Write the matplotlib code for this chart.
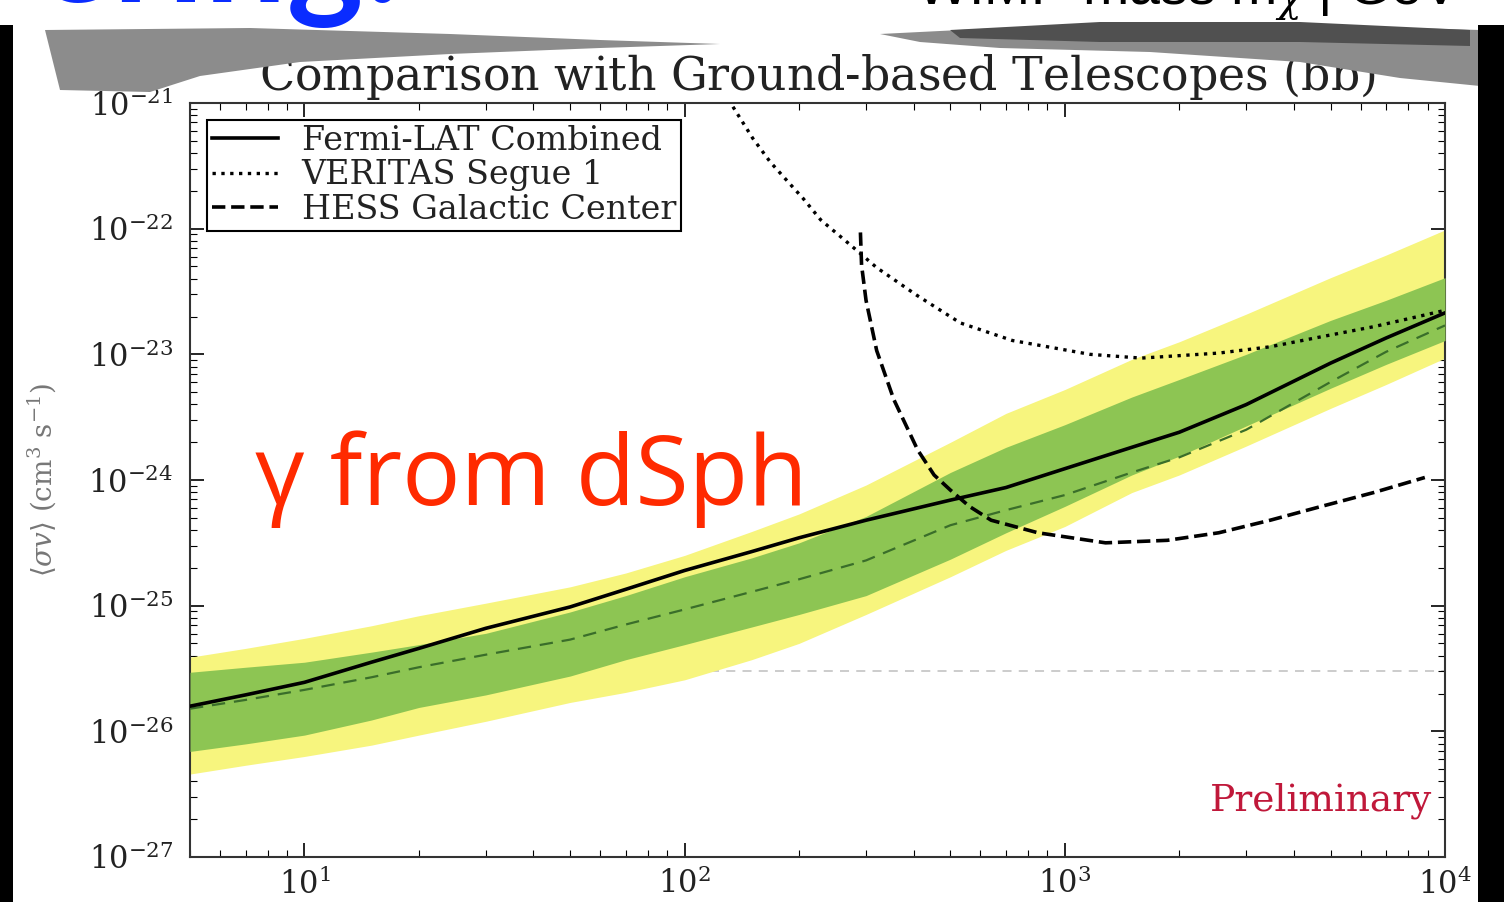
import matplotlib
matplotlib.use("Agg")
import numpy as np
import matplotlib.pyplot as plt
from matplotlib.patches import Polygon, Rectangle

plt.rcParams['font.family'] = ['DejaVu Serif']
plt.rcParams['mathtext.fontset'] = 'dejavuserif'
plt.rcParams['axes.unicode_minus'] = False

# WIMP mass grid (GeV); cross sections given as log10(<sigma v> / cm^3 s^-1)
mass = [5, 7, 10, 15, 20, 30, 50, 70, 100, 150, 200, 300, 500, 700,
        1000, 1500, 2000, 3000, 5000, 7000, 10000]
fermi_log = [-25.80, -25.71, -25.61, -25.45, -25.34, -25.18, -25.01, -24.87, -24.72, -24.57, -24.46,
             -24.32, -24.16, -24.06, -23.91, -23.74, -23.62, -23.40, -23.07, -22.87, -22.67]
median_log = [-25.82, -25.75, -25.67, -25.57, -25.49, -25.39, -25.27, -25.15, -25.03, -24.89, -24.79,
              -24.64, -24.36, -24.24, -24.12, -23.94, -23.82, -23.60, -23.22, -22.98, -22.77]
band1_hi_log = [-25.53, -25.49, -25.45, -25.37, -25.31, -25.22, -25.05, -24.92, -24.77, -24.62, -24.50,
                -24.29, -23.94, -23.74, -23.56, -23.34, -23.20, -23.00, -22.73, -22.57, -22.39]
band1_lo_log = [-26.16, -26.10, -26.03, -25.91, -25.81, -25.71, -25.56, -25.43, -25.31, -25.17, -25.07,
                -24.92, -24.63, -24.42, -24.21, -23.96, -23.81, -23.57, -23.27, -23.08, -22.89]
band2_hi_log = [-25.41, -25.34, -25.26, -25.16, -25.08, -24.98, -24.85, -24.74, -24.60, -24.41, -24.27,
                -24.04, -23.70, -23.47, -23.28, -23.04, -22.90, -22.68, -22.39, -22.21, -22.01]
band2_lo_log = [-26.34, -26.27, -26.20, -26.11, -26.03, -25.92, -25.77, -25.69, -25.59, -25.43, -25.30,
                -25.07, -24.77, -24.56, -24.37, -24.10, -23.96, -23.73, -23.43, -23.24, -23.03]

# VERITAS Segue 1
veritas_mass = [134, 151, 168, 190, 205, 228, 273, 320, 408, 531, 728, 1164, 1589, 2541,
                3467, 4732, 6490, 10000]
veritas_log = [-21.03, -21.28, -21.47, -21.65, -21.76, -21.93, -22.13, -22.31, -22.53, -22.75,
               -22.89, -23.00, -23.03, -22.99, -22.94, -22.86, -22.78, -22.65]

# HESS Galactic Center
hess_mass = [290, 292, 300, 320, 355, 410, 453, 500, 561, 640, 850, 1280, 1860, 2540,
             3470, 4730, 6490, 8850]
hess_log = [-22.03, -22.29, -22.57, -22.97, -23.36, -23.76, -23.96, -24.08, -24.21, -24.32,
            -24.42, -24.50, -24.48, -24.42, -24.32, -24.21, -24.10, -23.98]

relic_xsec = 3e-26

W, H = 1504, 902
fig = plt.figure(figsize=(W / 100, H / 100), dpi=100)
fig.patch.set_facecolor('white')


def fig_poly(pts, color):
    fig.add_artist(Polygon([(x / W, 1 - y / H) for x, y in pts], closed=True,
                           transform=fig.transFigure, facecolor=color, edgecolor='none'))


# slide decorations: torn paper shadow and dark borders
fig_poly([(45, 30), (250, 28), (450, 34), (600, 40), (720, 44), (600, 48), (450, 54),
          (300, 62), (200, 76), (150, 92), (60, 90)], '#8c8c8c')
fig_poly([(880, 34), (1000, 28), (1200, 22), (1480, 30), (1480, 86), (1400, 78),
          (1300, 62), (1150, 52), (1000, 48), (920, 42)], '#8c8c8c')
fig_poly([(950, 30), (1100, 22), (1300, 22), (1470, 30), (1470, 46), (1300, 42),
          (1100, 42), (960, 38)], '#505050')
fig.add_artist(Rectangle((0, 0), 13 / W, 1 - 25 / H, transform=fig.transFigure,
                         facecolor='black', edgecolor='none'))
fig.add_artist(Rectangle((1478 / W, 0), 1 - 1478 / W, 1 - 25 / H, transform=fig.transFigure,
                         facecolor='black', edgecolor='none'))

ax = fig.add_axes([190 / W, 1 - 857 / H, (1445 - 190) / W, (857 - 103) / H])
ax.set_xscale('log')
ax.set_yscale('log')

p = lambda v: np.power(10.0, v)
ax.axhline(relic_xsec, color='#c8c8c8', ls=(0, (5, 4)), lw=1.3, zorder=1)
ax.fill_between(mass, p(band2_lo_log), p(band2_hi_log), color='#f7f57e', lw=0, zorder=2)
ax.fill_between(mass, p(band1_lo_log), p(band1_hi_log), color='#8dc553', lw=0, zorder=3)
ax.plot(mass, p(median_log), color='#3a6e2a', ls=(0, (6, 4)), lw=1.6, zorder=4)
ax.plot(mass, p(fermi_log), color='black', lw=2.6, zorder=5, label='Fermi-LAT Combined')
ax.plot(veritas_mass, p(veritas_log), color='black', ls=':', lw=2.4, zorder=5,
        label='VERITAS Segue 1')
ax.plot(hess_mass, p(hess_log), color='black', ls='--', lw=2.6, zorder=5,
        label='HESS Galactic Center')

ax.set_xlim(5, 1e4)
ax.set_ylim(1e-27, 1e-21)

ax.tick_params(which='both', direction='in', top=True, right=True, labelsize=22,
               labelcolor='#222222')
ax.tick_params(which='major', length=10, width=1.2)
ax.tick_params(which='minor', length=5, width=0.8)
ax.tick_params(axis='x', pad=8)
ax.tick_params(axis='y', pad=12)
for s in ax.spines.values():
    s.set_linewidth(1.5)
    s.set_color('#333333')

ax.set_title(r'Comparison with Ground-based Telescopes ($\mathrm{b\bar{b}}$)',
             fontsize=33, pad=7, color='#222222')
ax.set_ylabel(r'$\langle\sigma v\rangle$ (cm$^3$ s$^{-1}$)', fontsize=20, color='#777777')
ax.yaxis.set_label_coords(-0.105, 0.5)

leg = ax.legend(loc='upper left', fontsize=24, frameon=True, fancybox=False,
                edgecolor='black', framealpha=1, borderpad=0.15, labelspacing=0.08,
                handlelength=2.0, handletextpad=0.7, borderaxespad=0.5)
leg.get_frame().set_linewidth(1.5)
for t in leg.get_texts():
    t.set_color('#222222')

ax.text(0.99, 0.062, 'Preliminary', transform=ax.transAxes, ha='right', va='baseline',
        fontsize=27, color='#c0183a')

# slide overlay text, cut by the top edge as on the slide
fig.text(255 / W, 1 - 505 / H, 'γ from dSph', fontsize=70, color='#ff2a00',
         family=['Open Sans', 'DejaVu Sans'], va='baseline', ha='left')
fig.text(402 / W, 1 - 2 / H, 'ering:', fontsize=105, color='#0a2cff', weight='bold',
         family=['Lato', 'DejaVu Sans'], va='baseline', ha='right')
fig.text(1460 / W, 1 - 3 / H, r'WIMP mass m$_\chi$ | GeV', fontsize=40, color='black',
         family=['Liberation Sans', 'DejaVu Sans'], va='baseline', ha='right')

fig.savefig('out.png', dpi=100)
